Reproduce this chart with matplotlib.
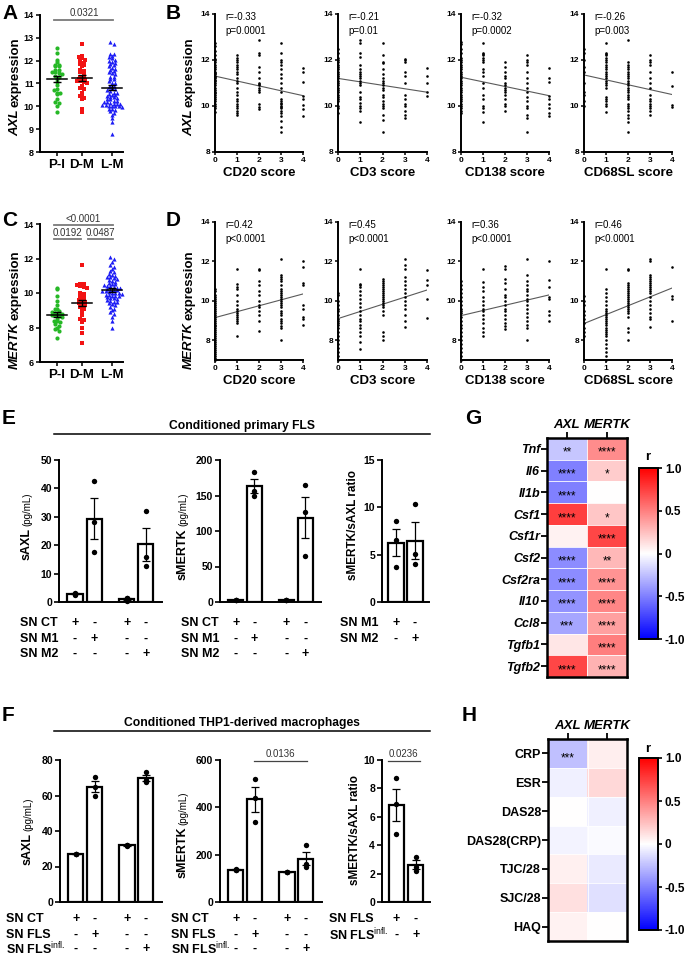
import numpy as np
import matplotlib
matplotlib.use("Agg")
import matplotlib.pyplot as plt

plt.rcParams['font.family'] = ['Liberation Sans', 'DejaVu Sans']
plt.rcParams['mathtext.fontset'] = 'custom'
plt.rcParams['mathtext.rm'] = 'Liberation Sans'
plt.rcParams['mathtext.it'] = 'Liberation Sans:italic'
plt.rcParams['mathtext.bf'] = 'Liberation Sans:bold'

# ---------------- A / C : expression per group ----------------
groups = ['P-I', 'D-M', 'L-M']
axl_pi = [12.55, 12.35, 12.05, 11.95, 11.8, 11.8, 11.75, 11.75, 11.6, 11.6, 11.5, 11.45, 11.5,
          11.4, 11.3, 11.2, 11.05, 10.95, 10.75, 10.7, 10.6, 10.6, 10.55, 10.3, 11.35, 10.15,
          10.2, 10.0, 9.75]
axl_dm = [12.75, 12.2, 12.15, 12.1, 12.05, 12.0, 11.9, 11.85, 11.8, 11.75, 11.6, 11.55, 11.5,
          11.4, 11.3, 11.25, 11.2, 11.2, 11.15, 11.1, 11.1, 11.05, 11.0, 10.9, 10.8, 10.75,
          10.6, 10.5, 10.45, 10.35, 10.3, 9.9, 9.75]
axl_lm = [12.8, 12.75, 12.3, 12.3, 12.2, 12.15, 12.1, 12.05, 12.0, 11.95, 11.9, 11.85, 11.8,
          11.75, 11.7, 11.65, 11.6, 11.55, 11.5, 11.45, 11.4, 11.3, 11.2, 11.1, 11.0, 10.9,
          10.85, 10.8, 10.75, 10.7, 10.65, 10.6, 10.55, 10.5, 10.45, 10.4, 10.35, 10.3, 10.25,
          10.2, 10.15, 10.1, 10.05, 10.0, 10.0, 9.95, 9.9, 9.85, 9.8, 9.7, 9.6, 9.5, 9.3, 8.8,
          10.1, 10.05, 10.2, 10.3, 10.0, 10.4, 10.5, 10.6, 10.9, 11.0, 11.2, 11.3, 9.9, 10.0,
          10.1, 10.25]
mertk_pi = [10.3, 10.25, 9.8, 9.55, 9.3, 9.1, 9.05, 8.95, 8.9, 8.85, 8.8, 8.8, 8.75, 8.7,
            8.65, 8.6, 8.5, 8.4, 8.35, 8.3, 8.2, 8.1, 8.0, 7.9, 7.8, 7.4]
mertk_dm = [11.6, 10.55, 10.5, 10.45, 10.4, 10.35, 10.3, 10.0, 9.95, 9.9, 9.8, 9.7, 9.65, 9.6,
            9.55, 9.5, 9.4, 9.35, 9.3, 9.2, 9.1, 9.05, 8.9, 8.7, 8.5, 8.45, 8.3, 8.0, 7.7, 7.1]
mertk_lm = [12.1, 12.0, 11.8, 11.6, 11.5, 11.4, 11.3, 11.2, 11.1, 11.05, 11.0, 10.95, 10.9,
            10.85, 10.8, 10.75, 10.7, 10.65, 10.6, 10.55, 10.5, 10.45, 10.4, 10.4, 10.35, 10.3,
            10.3, 10.25, 10.2, 10.2, 10.15, 10.1, 10.1, 10.05, 10.0, 10.0, 10.0, 9.95, 9.9, 9.9,
            9.85, 9.8, 9.8, 9.75, 9.7, 9.7, 9.65, 9.6, 9.55, 9.5, 9.45, 9.4, 9.35, 9.3, 9.2,
            9.1, 9.0, 8.9, 8.8, 8.6, 8.4, 8.0]
axl_sig = ['0.0321']
mertk_sig = ['<0.0001', '0.0192', '0.0487']

# ---------------- B / D : expression vs histology score (score 0..4) ----------------
score_names = ['CD20 score', 'CD3 score', 'CD138 score', 'CD68SL score']
axl_cd20 = [[12.75, 12.6, 12.4, 12.2, 12.05, 12.0, 11.9, 11.8, 11.7, 11.6, 11.5, 11.45, 11.4, 11.3,
             11.25, 11.2, 11.15, 11.1, 11.0, 10.9, 10.8, 10.7, 10.6, 10.55, 10.5, 10.4, 10.3, 10.2,
             10.1, 10.0, 9.9, 9.75],
            [12.2, 12.1, 12.0, 11.9, 11.8, 11.7, 11.6, 11.5, 11.4, 11.2, 11.1, 11.0, 10.8, 10.6, 10.5,
             10.3, 10.2, 10.1, 10.0, 9.9, 9.8, 9.7, 9.6],
            [12.85, 12.3, 12.2, 11.7, 11.5, 11.2, 11.0, 10.95, 10.9, 10.8, 10.7, 10.6, 10.1, 9.95, 9.85],
            [12.75, 12.3, 12.0, 11.9, 11.8, 11.6, 11.4, 11.2, 11.0, 10.8, 10.6, 10.3, 10.2, 10.15, 10.1,
             10.0, 9.95, 9.9, 9.8, 9.7, 9.55, 9.35, 9.1, 8.85],
            [11.65, 11.5, 11.05, 10.45, 10.3, 10.05, 9.85, 9.55]]
axl_cd3 = [[12.5, 12.3, 12.1, 12.0, 11.9, 11.8, 11.7, 11.6, 11.5, 11.4, 11.3, 11.2, 11.1, 11.0, 10.9,
            10.8, 10.7, 10.6, 10.5, 10.4, 10.3, 10.2, 10.0, 9.9, 9.7],
           [12.85, 12.75, 12.3, 12.15, 11.8, 11.6, 11.5, 11.4, 11.3, 11.2, 11.1, 11.0, 10.9, 10.6,
            10.4, 10.3, 10.15, 10.0, 9.9, 9.8, 9.3],
           [12.75, 12.2, 11.9, 11.85, 11.6, 11.4, 11.2, 11.1, 11.0, 10.9, 10.8, 10.7, 10.5, 10.4,
            10.2, 10.1, 10.0, 9.9, 9.6, 9.4, 8.85],
           [12.05, 12.0, 11.9, 11.5, 11.3, 11.0, 10.5, 10.3, 10.1, 10.0, 9.8, 9.6, 9.5],
           [11.65, 11.3, 11.0, 10.6, 10.45]]
axl_cd138 = [[12.8, 12.7, 12.5, 12.3, 12.1, 12.0, 11.9, 11.8, 11.7, 11.6, 11.5, 11.4, 11.3, 11.2,
              11.1, 11.0, 10.9, 10.8, 10.7, 10.6, 10.5, 10.4, 10.3, 10.2, 10.1, 10.0, 9.9, 9.8, 9.7],
             [12.75, 12.3, 12.25, 12.2, 12.1, 12.0, 11.9, 11.6, 11.5, 11.3, 11.0, 10.8, 10.5, 10.3,
              10.0, 9.9, 9.75, 9.3],
             [11.9, 11.7, 11.5, 11.3, 11.2, 11.0, 10.9, 10.8, 10.7, 10.6, 10.5, 10.3, 10.1, 10.0, 9.8],
             [12.2, 12.0, 11.9, 11.8, 11.5, 11.2, 11.0, 10.8, 10.6, 10.4, 10.2, 10.0, 9.9, 9.6, 9.5, 8.85],
             [11.65, 11.2, 11.05, 10.45, 10.3, 10.1, 9.9, 9.7, 9.55]]
axl_cd68 = [[12.5, 12.3, 12.0, 11.7, 11.5, 11.0, 10.6, 10.5, 10.2, 10.0],
            [12.75, 12.3, 12.25, 12.2, 12.1, 12.0, 11.9, 11.8, 11.7, 11.6, 11.5, 11.4, 11.3, 11.2,
             11.1, 11.0, 10.9, 10.8, 10.4, 10.3, 10.2, 10.1, 10.0, 9.75],
            [12.85, 11.9, 11.8, 11.7, 11.6, 11.5, 11.4, 11.3, 11.2, 11.1, 11.0, 10.9, 10.8, 10.7, 10.6,
             10.5, 10.4, 10.3, 10.1, 10.0, 9.9, 9.8, 9.6, 9.5, 9.3, 8.85],
            [12.2, 12.0, 11.9, 11.8, 11.5, 11.2, 11.0, 10.8, 10.5, 10.3, 10.2, 10.1, 10.0, 9.9, 9.8, 9.6],
            [11.5, 10.85, 10.05, 9.95]]
axl_r = ['r=-0.33', 'r=-0.21', 'r=-0.32', 'r=-0.26']
axl_p = ['p=0.0001', 'p=0.01', 'p=0.0002', 'p=0.003']
axl_fit = [(11.3, 10.45), (11.2, 10.6), (11.25, 10.45), (11.35, 10.5)]

mertk_cd20 = [[10.6, 10.5, 10.3, 10.2, 10.1, 10.0, 9.9, 9.8, 9.7, 9.6, 9.5, 9.4, 9.3, 9.2, 9.1, 9.0,
               8.9, 8.8, 8.7, 8.6, 8.5, 8.4, 8.3, 8.2, 8.1, 8.0, 7.9, 7.8, 7.7, 7.6, 7.5, 7.4, 7.3,
               7.2, 7.1, 7.0],
              [11.6, 10.85, 10.7, 10.6, 10.3, 10.0, 9.8, 9.6, 9.5, 9.4, 9.3, 9.2, 9.1, 9.0, 8.9, 8.2],
              [11.6, 11.55, 11.0, 10.8, 10.5, 10.3, 10.0, 9.8, 9.7, 9.5, 9.3, 9.0, 8.45],
              [12.1, 11.3, 11.2, 11.1, 11.0, 10.8, 10.6, 10.5, 10.4, 10.3, 10.2, 10.1, 10.0, 9.9, 9.8,
               9.7, 9.5, 9.4, 9.3, 9.1, 9.0, 8.9, 8.7, 8.6, 8.0],
              [12.0, 11.7, 10.9, 10.8, 9.8, 9.6, 9.2, 9.1, 8.8]]
mertk_cd3 = [[10.4, 10.3, 10.0, 9.8, 9.6, 9.5, 9.3, 9.1, 9.0, 8.9, 8.8, 8.6, 8.4, 8.2, 8.0, 7.8,
              7.6, 7.4, 7.2, 7.0],
             [11.6, 10.85, 10.8, 10.7, 10.5, 10.3, 10.1, 9.9, 9.7, 9.5, 9.3, 9.1, 9.0, 8.8, 8.6,
              8.4, 8.2, 7.9, 7.55],
             [11.1, 11.0, 10.9, 10.8, 10.7, 10.6, 10.5, 10.4, 10.3, 10.2, 10.1, 10.0, 9.9, 9.8, 9.7,
              9.5, 9.3, 8.4, 8.2, 8.0],
             [12.1, 11.8, 11.6, 11.2, 11.0, 10.8, 10.6, 10.4, 10.2, 10.0, 9.8, 9.6, 9.3, 9.0, 8.65],
             [11.55, 11.05, 10.8, 10.1, 9.15]]
mertk_cd138 = [[11.0, 10.8, 10.6, 10.4, 10.2, 10.0, 9.8, 9.6, 9.5, 9.4, 9.2, 9.0, 8.8, 8.6, 8.4,
                8.2, 8.0, 7.8, 7.6, 7.4, 7.2, 7.0],
               [11.6, 10.95, 10.7, 10.5, 10.2, 10.0, 9.8, 9.6, 9.5, 9.3, 9.1, 8.9, 8.6, 8.4, 8.2],
               [11.75, 11.6, 11.1, 10.9, 10.6, 10.3, 10.2, 10.0, 9.8, 9.6, 9.5, 9.3, 9.1, 8.9, 8.7, 8.55],
               [12.1, 11.3, 11.0, 10.8, 10.6, 10.5, 10.3, 10.1, 10.0, 9.8, 9.6, 9.4, 9.2, 9.0, 8.8,
                8.6, 8.0],
               [12.0, 11.05, 10.7, 10.2, 10.1, 9.5, 9.3, 9.0]]
mertk_cd68 = [[10.25, 10.0, 9.8, 9.5, 9.3, 9.1, 8.9, 8.6, 8.4, 8.2],
              [11.6, 10.6, 10.4, 10.2, 10.0, 9.8, 9.6, 9.5, 9.4, 9.3, 9.2, 9.1, 9.0, 8.9, 8.8, 8.6,
               8.5, 8.4, 8.3, 8.2, 8.0, 7.8, 7.6, 7.4, 7.2, 7.0],
              [11.6, 11.55, 10.9, 10.8, 10.7, 10.6, 10.5, 10.4, 10.3, 10.2, 10.1, 10.0, 9.9, 9.8,
               9.7, 9.6, 9.5, 9.4, 9.2, 8.6, 8.4, 8.0],
              [12.1, 12.0, 11.3, 11.2, 11.1, 11.0, 10.9, 10.8, 10.7, 10.6, 10.5, 10.4, 10.2, 10.0,
               9.8, 9.6, 9.4, 9.2, 9.1, 8.65],
              [11.7, 10.25, 10.1, 9.0]]
mertk_r = ['r=0.42', 'r=0.45', 'r=0.36', 'r=0.46']
mertk_p = ['p<0.0001', 'p<0.0001', 'p<0.0001', 'p<0.0001']
mertk_fit = [(9.15, 10.35), (9.1, 10.55), (9.25, 10.3), (8.85, 10.65)]

# ---------------- E / F : soluble receptors (triplicates) ----------------
e_saxl = [[3.2, 2.6, 2.7], [42.5, 28.0, 17.5], [0.4, 1.4, 1.3], [32.0, 16.0, 12.8]]
e_smertk = [[2.5, 3.0, 2.8], [183, 157, 150], [2.5, 2.8, 2.6], [165, 127, 65]]
e_ratio = [[8.6, 6.5, 3.7], [10.3, 5.1, 4.0]]
e_rows = ['SN CT', 'SN M1', 'SN M2']
e_marks = [['+', '-', '+', '-'], ['-', '+', '-', '-'], ['-', '-', '-', '+']]
e_ratio_rows = ['SN M1', 'SN M2']
e_ratio_marks = [['+', '-'], ['-', '+']]

f_saxl = [[27.3, 27.0, 26.8], [70.5, 65.0, 59.5], [32.3, 32.0, 31.7], [73.5, 68.5, 67.5]]
f_smertk = [[138, 137, 136], [520, 440, 340], [128, 127, 126], [240, 160, 150]]
f_ratio = [[8.7, 6.9, 4.8], [3.2, 2.5, 2.2]]
f_rows = ['SN CT', 'SN FLS', r'SN FLS$^{\mathrm{infl.}}$']
f_marks = e_marks
f_ratio_rows = ['SN FLS', r'SN FLS$^{\mathrm{infl.}}$']
f_ratio_marks = e_ratio_marks
f_smertk_sig = '0.0136'
f_ratio_sig = '0.0236'

# ---------------- G / H : correlation heatmaps ----------------
g_genes = ['Tnf', 'Il6', 'Il1b', 'Csf1', 'Csf1r', 'Csf2', 'Csf2ra', 'Il10', 'Ccl8', 'Tgfb1', 'Tgfb2']
g_axl = [-0.22, -0.5, -0.5, 0.75, 0.05, -0.45, -0.45, -0.42, -0.35, 0.1, 0.72]
g_mertk = [0.45, 0.2, 0.0, 0.22, 0.72, 0.28, 0.42, 0.47, 0.37, 0.5, 0.3]
g_axl_sig = ['**', '****', '****', '****', '', '****', '****', '****', '***', '', '****']
g_mertk_sig = ['****', '*', '', '*', '****', '**', '****', '****', '****', '****', '****']

h_vars = ['CRP', 'ESR', 'DAS28', 'DAS28(CRP)', 'TJC/28', 'SJC/28', 'HAQ']
h_axl = [-0.25, -0.06, 0.0, -0.04, 0.06, 0.12, 0.05]
h_mertk = [0.07, 0.15, -0.06, -0.02, -0.08, -0.12, 0.0]
h_axl_sig = ['***', '', '', '', '', '', '']
h_mertk_sig = ['', '', '', '', '', '', '']

# ======================================================================
W, H = 685, 957
fig = plt.figure(figsize=(W / 100, H / 100), dpi=100)


def add_ax(l, t, r, b):
    return fig.add_axes([l / W, 1 - b / H, (r - l) / W, (b - t) / H])


def ftext(x, y, s, **kw):
    return fig.text(x / W, 1 - y / H, s, **kw)


def style(ax):
    for s in ['top', 'right']:
        ax.spines[s].set_visible(False)
    for s in ['left', 'bottom']:
        ax.spines[s].set_linewidth(1.4)
    ax.tick_params(width=1.1, length=3, pad=1.5)


def set_yt(ax, ticks, fs):
    ax.set_yticks(ticks, [f'{t:g}' for t in ticks], fontweight='bold', fontsize=fs)


def split_ylabel(x, y, first, second, fs1, fs2, style1='normal', w2='bold'):
    ftext(x, y + 1, first, rotation=90, ha='center', va='top', fontsize=fs1,
          fontweight='bold', fontstyle=style1)
    ftext(x, y - 1, second, rotation=90, ha='center', va='bottom', fontsize=fs2,
          fontweight=w2)


def swarm(vals, center, bw, dx):
    v = np.sort(np.asarray(vals, float))[::-1]
    bins = np.round(v / bw)
    xs = np.empty_like(v)
    for b in np.unique(bins):
        idx = np.where(bins == b)[0]
        xs[idx] = center + (np.arange(len(idx)) - (len(idx) - 1) / 2) * dx
    return xs, v


letters = {'A': (2, 4), 'B': (166, 4), 'C': (2, 211), 'D': (166, 211),
           'E': (2, 409), 'G': (465, 409), 'F': (2, 706), 'H': (462, 706)}
for k, (x, y) in letters.items():
    ftext(x, y, k, fontsize=15, fontweight='bold', ha='left', va='top')

# ---------------- A / C ----------------
gx = [0, 1, 2.2]
gcolors = ['#26b826', '#f21414', '#1c1cf5']
gmarkers = ['o', 's', '^']


def group_panel(ax, data, ylim, yticks, bw):
    style(ax)
    for i, vals in enumerate(data):
        xs, ys = swarm(vals, gx[i], bw, 0.13)
        ax.scatter(xs, ys, s=9, marker=gmarkers[i], color=gcolors[i], linewidths=0,
                   zorder=2, clip_on=False)
        mean = np.mean(vals)
        sem = np.std(vals, ddof=1) / np.sqrt(len(vals))
        ax.plot([gx[i] - 0.4, gx[i] + 0.4], [mean, mean], color='black', lw=1.1, zorder=3)
        ax.errorbar(gx[i], mean, yerr=sem, fmt='none', ecolor='black', elinewidth=1.0,
                    capsize=3, capthick=1.0, zorder=3)
    ax.set_xlim(-0.68, 2.64)
    ax.set_ylim(*ylim)
    set_yt(ax, yticks, 6.5)
    ax.set_xticks(gx, groups, fontweight='bold', fontsize=9.5)
    ax.tick_params(axis='x', pad=2)


axA = add_ax(40, 15, 123, 152)
group_panel(axA, [axl_pi, axl_dm, axl_lm], (8, 14), [8, 9, 10, 11, 12, 13, 14], 0.13)
axA.plot([gx[0] - 0.12, gx[2] + 0.04], [13.78, 13.78], color='#7a7a7a', lw=1.3, clip_on=False)
axA.text((gx[0] + gx[2]) / 2, 13.85, axl_sig[0], ha='center', va='bottom', fontsize=7,
         color='#333333')
split_ylabel(15, 108, 'AXL', 'expression', 9.5, 9.5, style1='italic')

axC = add_ax(40, 224, 123, 362)
group_panel(axC, [mertk_pi, mertk_dm, mertk_lm], (6, 14), [6, 8, 10, 12, 14], 0.17)
for (a, b, y), s in zip([(gx[0] - 0.12, gx[2] + 0.04, 13.93), (gx[0] - 0.12, gx[1] - 0.06, 13.13),
                         (gx[1] + 0.22, gx[2] + 0.04, 13.13)], mertk_sig):
    axC.plot([a, b], [y, y], color='#7a7a7a', lw=1.3, clip_on=False)
    axC.text((a + b) / 2, y + 0.08, s, ha='center', va='bottom', fontsize=7, color='#333333')
split_ylabel(15, 321, 'MERTK', 'expression', 9.5, 9.5, style1='italic')

# ---------------- B / D ----------------
panel_x = [(215, 303), (338, 427), (461, 549), (584, 672)]


def score_panel(ax, cols, fit, r, p, ylim, yticks, name):
    style(ax)
    for x, vals in enumerate(cols):
        ax.scatter([x] * len(vals), vals, s=3.5, color='black', linewidths=0, zorder=3,
                   clip_on=False)
    ax.plot([0, 4], fit, color='#5a5a5a', lw=0.8, zorder=2)
    ax.set_xlim(0, 4)
    ax.set_ylim(*ylim)
    ax.set_xticks(range(5), [str(i) for i in range(5)], fontweight='bold', fontsize=6)
    set_yt(ax, yticks, 6)
    ax.tick_params(length=2.5, pad=1)
    ax.set_xlabel(name, fontweight='bold', fontsize=9.5, labelpad=2)
    ax.text(0.115, 0.975, r, transform=ax.transAxes, ha='left', va='center', fontsize=7)
    ax.text(0.115, 0.88, p, transform=ax.transAxes, ha='left', va='center', fontsize=7)


for i, cols in enumerate([axl_cd20, axl_cd3, axl_cd138, axl_cd68]):
    ax = add_ax(panel_x[i][0], 14, panel_x[i][1], 152)
    score_panel(ax, cols, axl_fit[i], axl_r[i], axl_p[i], (8, 14), [8, 10, 12, 14],
                score_names[i])
split_ylabel(189, 108, 'AXL', 'expression', 9.5, 9.5, style1='italic')

for i, cols in enumerate([mertk_cd20, mertk_cd3, mertk_cd138, mertk_cd68]):
    ax = add_ax(panel_x[i][0], 222, panel_x[i][1], 360)
    score_panel(ax, cols, mertk_fit[i], mertk_r[i], mertk_p[i], (7, 14), [8, 10, 12, 14],
                score_names[i])
split_ylabel(189, 321, 'MERTK', 'expression', 9.5, 9.5, style1='italic')

# ---------------- E / F ----------------
pos4 = [0, 1, 2.7, 3.7]
pos2 = [0, 1]


def bar_panel(ax, data, pos, ylim, yticks):
    style(ax)
    means = [np.mean(v) for v in data]
    sems = [np.std(v, ddof=1) / np.sqrt(len(v)) for v in data]
    ax.bar(pos, means, width=0.8, color='white', edgecolor='black', linewidth=1.6, zorder=2)
    ax.errorbar(pos, means, yerr=sems, fmt='none', ecolor='black', elinewidth=0.9,
                capsize=3.2, capthick=0.9, zorder=3)
    for p, v in zip(pos, data):
        ax.scatter([p] * len(v), v, s=15, color='black', linewidths=0, zorder=4, clip_on=False)
    ax.set_ylim(*ylim)
    ax.set_xlim(-0.84, 4.55) if len(pos) == 4 else ax.set_xlim(-0.74, 1.74)
    ax.set_xticks([])
    set_yt(ax, yticks, 7.5)
    ax.tick_params(axis='y', length=3.5, width=1.2)


def table(ax, pos, rows, marks, row_x, row_y, bottom):
    for lab, mk, y in zip(rows, marks, row_y):
        ftext(row_x, y, lab, ha='left', va='center', fontsize=9, fontweight='bold')
        for p, s in zip(pos, mk):
            ax.annotate(s, xy=(p, 0), xycoords=('data', 'axes fraction'),
                        xytext=(0, -(y - bottom) * 0.72), textcoords='offset points',
                        ha='center', va='center', fontsize=9, fontweight='bold',
                        annotation_clip=False)


def header(text, y_text, y_line):
    ftext(242, y_text, text, ha='center', va='center', fontsize=8.7, fontweight='bold')
    fig.add_artist(plt.Line2D([54 / W, 430 / W], [1 - y_line / H, 1 - y_line / H],
                              color='black', lw=1.1))


header('Conditioned primary FLS', 426, 434)
e_rows_y = [623, 639, 654]
ax = add_ax(59, 460, 162, 602)
bar_panel(ax, e_saxl, pos4, (0, 50), [0, 10, 20, 30, 40, 50])
table(ax, pos4, e_rows, e_marks, 20, e_rows_y, 602)
split_ylabel(27, 527, 'sAXL', '(pg/mL)', 9, 7, w2='normal')

ax = add_ax(220, 460, 321, 602)
bar_panel(ax, e_smertk, pos4, (0, 200), [0, 50, 100, 150, 200])
table(ax, pos4, e_rows, e_marks, 181, e_rows_y, 602)
split_ylabel(183, 527, 'sMERTK', '(pg/mL)', 9, 7, w2='normal')

ax = add_ax(382, 460, 429, 602)
bar_panel(ax, e_ratio, pos2, (0, 15), [0, 5, 10, 15])
table(ax, pos2, e_ratio_rows, e_ratio_marks, 340, e_rows_y, 602)
ftext(353, 525, 'sMERTK/sAXL ratio', rotation=90, ha='center', va='center', fontsize=8.5,
      fontweight='bold')

header('Conditioned THP1-derived macrophages', 723, 731)
f_rows_y = [919, 935, 949]
ax = add_ax(60, 760, 162, 902)
bar_panel(ax, f_saxl, pos4, (0, 80), [0, 20, 40, 60, 80])
table(ax, pos4, f_rows, f_marks, 6, f_rows_y, 902)
split_ylabel(28, 832, 'sAXL', '(pg/mL)', 9, 7, w2='normal')

ax = add_ax(220, 760, 322, 902)
bar_panel(ax, f_smertk, pos4, (0, 600), [0, 200, 400, 600])
table(ax, pos4, f_rows, f_marks, 171, f_rows_y, 902)
split_ylabel(183, 826, 'sMERTK', '(pg/mL)', 9, 7, w2='normal')
ax.plot([1 - 0.05, 3.7 + 0.05], [597, 597], color='#444444', lw=0.9, clip_on=False)
ax.text(2.35, 605, f_smertk_sig, ha='center', va='bottom', fontsize=7, color='#333333')

ax = add_ax(382, 760, 430, 902)
bar_panel(ax, f_ratio, pos2, (0, 10), [0, 2, 4, 6, 8, 10])
table(ax, pos2, f_ratio_rows, f_ratio_marks, 329, f_rows_y, 902)
ftext(355, 830, 'sMERTK/sAXL ratio', rotation=90, ha='center', va='center', fontsize=8.5,
      fontweight='bold')
ax.plot([-0.45, 1.2], [9.95, 9.95], color='#444444', lw=0.9, clip_on=False)
ax.text(0.37, 10.1, f_ratio_sig, ha='center', va='bottom', fontsize=7, color='#333333')


# ---------------- G / H ----------------
def heat(box, cbox, rows, a, m, asig, msig, italic_rows, r_y):
    ax = add_ax(*box)
    vals = np.column_stack([a, m])
    im = ax.imshow(vals, cmap='bwr', vmin=-1, vmax=1, aspect='auto', interpolation='nearest')
    ax.xaxis.tick_top()
    ax.set_xticks([0, 1], ['AXL', 'MERTK'], fontweight='bold', fontstyle='italic', fontsize=9.5)
    ax.set_yticks(range(len(rows)), rows, fontweight='bold',
                  fontstyle='italic' if italic_rows else 'normal', fontsize=9)
    ax.set_xticks([0.5], minor=True)
    ax.set_yticks(np.arange(0.5, len(rows) - 1), minor=True)
    ax.grid(which='minor', color='white', lw=0.6)
    ax.tick_params(which='minor', length=0)
    ax.tick_params(which='major', length=4, width=1.3, pad=1)
    for sp in ax.spines.values():
        sp.set_linewidth(1.8)
    for i in range(len(rows)):
        for j, s in enumerate([asig[i], msig[i]]):
            if s:
                ax.text(j, i + 0.18, s, ha='center', va='center', fontsize=8.5)
    cax = add_ax(*cbox)
    cb = fig.colorbar(im, cax=cax, ticks=[-1, -0.5, 0, 0.5, 1])
    cb.ax.set_yticklabels(['-1.0', '-0.5', '0', '0.5', '1.0'], fontweight='bold', fontsize=8.5)
    cb.outline.set_linewidth(1.4)
    cb.ax.tick_params(length=3, width=1.2, pad=2)
    ftext(648, r_y, 'r', ha='center', va='center', fontsize=9.5, fontweight='bold')


heat((547, 438, 627, 677), (639, 468, 658, 639), g_genes, g_axl, g_mertk, g_axl_sig,
     g_mertk_sig, True, 457)
heat((548, 739, 627, 941), (639, 758, 658, 930), h_vars, h_axl, h_mertk, h_axl_sig,
     h_mertk_sig, False, 749)

fig.savefig('out.png', dpi=100)
